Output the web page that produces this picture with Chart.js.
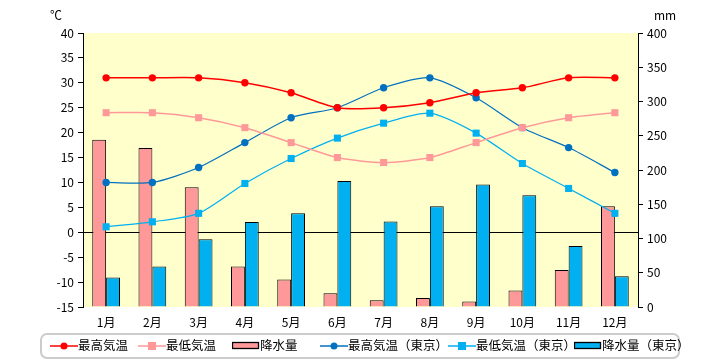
<!DOCTYPE html>
<html><head><meta charset="utf-8">
<script src="https://cdn.jsdelivr.net/npm/chart.js@4/dist/chart.umd.min.js"></script>
<style>
html,body{margin:0;padding:0;background:#fff;}
#wrap{position:relative;width:720px;height:360px;font-family:"Noto Sans CJK JP",sans-serif;}
canvas{position:absolute;left:0;top:0;}
.unit{position:absolute;font-size:12px;color:#000;}
#legend{position:absolute;left:40px;top:333px;width:636px;height:22px;border:2px solid #ccc;border-radius:7px;background:#fff;}
.li{position:absolute;top:0;height:22px;line-height:22px;font-size:12.5px;color:#000;white-space:nowrap;}
.li svg{position:absolute;top:0;}
.li span{position:absolute;top:-1px;}
</style></head>
<body><div id="wrap">
<canvas id="c" width="720" height="360"></canvas>
<div class="unit" style="left:50px;top:6px;">℃</div>
<div class="unit" style="left:654px;top:6px;">mm</div>
<div id="legend"></div>
</div>
<script>
const months = ['1月','2月','3月','4月','5月','6月','7月','8月','9月','10月','11月','12月'];
const maxTemp = [31,31,31,30,28,25,25,26,28,29,31,31];
const minTemp = [24,24,23,21,18,15,14,15,18,21,23,24];
const rain = [244,232,175,59,40,20,10,13,8,24,54,147];
const maxTempTokyo = [10,10,13,18,23,25,29,31,27,21,17,12];
const minTempTokyo = [1.1,2.1,3.8,9.8,14.8,18.9,21.9,23.9,19.9,13.8,8.8,3.8];
const rainTokyo = [43,59,99,124,137,184,125,147,179,163,89,45];
const leftTicks = {min:-15,max:40,step:5};
const rightTicks = {min:0,max:400,step:50};

const legendItems = [
 {label:'最高気温',type:'line',color:'#FF0000',pt:'circle',x:8},
 {label:'最低気温',type:'line',color:'#FF9999',pt:'rect',x:96},
 {label:'降水量',type:'bar',color:'#FF9999',x:190},
 {label:'最高気温（東京）',type:'line',color:'#0070C0',pt:'circle',x:278},
 {label:'最低気温（東京）',type:'line',color:'#00B0F0',pt:'rect',x:406},
 {label:'降水量（東京）',type:'bar',color:'#00B0F0',x:532}
];
const lg = document.getElementById('legend');
legendItems.forEach(it=>{
  const d=document.createElement('div');d.className='li';d.style.left=it.x+'px';
  let svg;
  if(it.type==='line'){
    const m = it.pt==='circle' ? `<circle cx="14" cy="11" r="3.5" fill="${it.color}"/>` : `<rect x="10" y="7" width="8" height="8" fill="${it.color}"/>`;
    svg=`<svg width="28" height="22" style="left:0"><line x1="0" y1="11" x2="28" y2="11" stroke="${it.color}" stroke-width="1.5"/>${m}</svg>`;
  } else {
    svg=`<svg width="28" height="22" style="left:0"><rect x="0.5" y="7.5" width="26" height="6" fill="${it.color}" stroke="#000" stroke-width="1.3"/></svg>`;
  }
  d.innerHTML=svg+`<span style="left:28px">${it.label}</span>`;
  lg.appendChild(d);
});

const bgPlugin={id:'bg',beforeDraw(ch){const a=ch.chartArea;const c=ch.ctx;c.save();c.fillStyle='#FFFFCC';c.fillRect(a.left,a.top,a.right-a.left,a.bottom-a.top);c.restore();}};

const lineDs=(label,data,color,pt,w)=>({type:'line',label,data,yAxisID:'y',borderColor:color,backgroundColor:color,pointBackgroundColor:color,pointBorderColor:color,pointStyle:pt,pointRadius:pt==='rect'?5:3.7,pointBorderWidth:0,borderWidth:w,tension:0.25,order:0});
const barDs=(label,data,color)=>({type:'bar',label,data,yAxisID:'y2',backgroundColor:color,borderColor:'#000',borderWidth:1,categoryPercentage:0.6,barPercentage:1,order:1});

new Chart(document.getElementById('c'),{
  data:{labels:months,datasets:[
    lineDs('最高気温',maxTemp,'#FF0000','circle',1.5),
    lineDs('最低気温',minTemp,'#FF9999','rect',1.5),
    barDs('降水量',rain,'#FF9999'),
    lineDs('最高気温（東京）',maxTempTokyo,'#0070C0','circle',1.2),
    lineDs('最低気温（東京）',minTempTokyo,'#00B0F0','rect',1.2),
    barDs('降水量（東京）',rainTokyo,'#00B0F0')
  ]},
  options:{
    responsive:false,animation:false,
    layout:{padding:{top:33,left:0,right:0,bottom:0}},
    plugins:{legend:{display:false},tooltip:{enabled:false}},
    scales:{
      x:{grid:{display:false},border:{display:false},
         ticks:{color:'#000',font:{family:'"Noto Sans CJK JP"',size:12},padding:0,maxRotation:0},
         afterFit(s){s.height=53;}},
      y:{position:'left',min:leftTicks.min,max:leftTicks.max,
         ticks:{stepSize:leftTicks.step,color:'#000',font:{family:'"Noto Sans CJK JP"',size:12},padding:4},
         border:{display:true,color:'#000',width:1},
         grid:{drawOnChartArea:true,color:c=>c.tick&&c.tick.value===0?'#000':'rgba(0,0,0,0)',tickColor:'#000',tickLength:5,lineWidth:1},
         afterFit(s){s.width=83;}},
      y2:{position:'right',min:rightTicks.min,max:rightTicks.max,
         ticks:{stepSize:rightTicks.step,color:'#000',font:{family:'"Noto Sans CJK JP"',size:12},padding:4},
         border:{display:true,color:'#000',width:1},
         grid:{drawOnChartArea:false,tickColor:'#000',tickLength:5},
         afterFit(s){s.width=82;}}
    }
  },
  plugins:[bgPlugin]
});
</script>
</body></html>
